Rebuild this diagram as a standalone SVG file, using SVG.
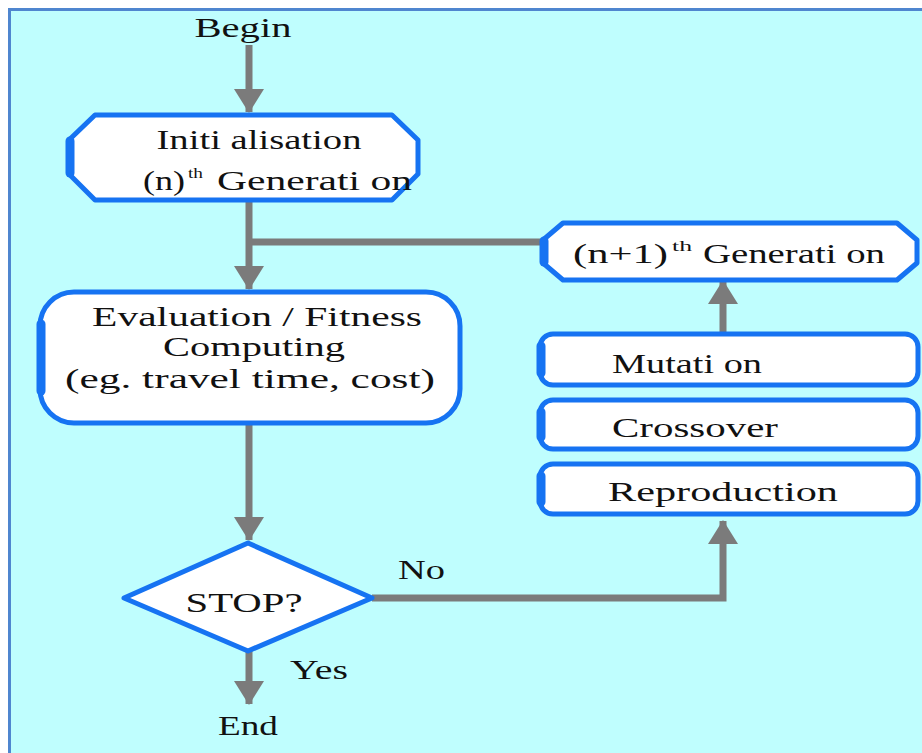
<svg xmlns="http://www.w3.org/2000/svg" width="922" height="753" viewBox="0 0 922 753">
  <style>
    .bg { fill: #bffefe; }
    .frame { fill: none; stroke: #4f86cf; stroke-width: 3; }
    .box { fill: #ffffff; stroke: #1673f2; stroke-width: 5; stroke-linejoin: round; }
    .edge { fill: none; stroke: #1673f2; stroke-width: 9; stroke-linecap: round; }
    .wire { fill: none; stroke: #7b7b7b; stroke-width: 7; }
    .lbl { font-family: "Liberation Serif", "DejaVu Serif", serif; font-size: 27px; fill: #111111; }
    .sup { font-size: 14px; }
  </style>
  <defs>
    <marker id="head" markerUnits="userSpaceOnUse" markerWidth="30" markerHeight="30" viewBox="0 0 24 30" refX="23" refY="15" orient="auto">
      <path d="M0,0 L24,15 L0,30 Z" fill="#7b7b7b"/>
    </marker>
  </defs>

  <!-- page -->
  <rect x="0" y="0" width="922" height="753" fill="#ffffff"/>
  <rect class="bg" x="10" y="10" width="912" height="743"/>
  <path class="frame" d="M9.5,753 V9.5 H922"/>

  <!-- connectors -->
  <g id="connectors">
    <line class="wire" x1="249" y1="45" x2="249" y2="112" marker-end="url(#head)"/>
    <line class="wire" x1="249" y1="202" x2="249" y2="289" marker-end="url(#head)"/>
    <line class="wire" x1="252" y1="242" x2="542" y2="242"/>
    <line class="wire" x1="249" y1="424" x2="249" y2="540" marker-end="url(#head)"/>
    <line class="wire" x1="249" y1="651" x2="249" y2="704" marker-end="url(#head)"/>
    <polyline class="wire" points="372,598 723,598 723,521" marker-end="url(#head)"/>
    <line class="wire" x1="723" y1="334" x2="723" y2="281" marker-end="url(#head)"/>
    <text class="lbl" x="398" y="579" textLength="47" lengthAdjust="spacingAndGlyphs">No</text>
    <text class="lbl" x="290" y="679" textLength="58" lengthAdjust="spacingAndGlyphs">Yes</text>
  </g>

  <g id="begin">
    <text class="lbl" x="243" y="37" text-anchor="middle" textLength="97" lengthAdjust="spacingAndGlyphs">Begin</text>
  </g>

  <g id="init">
    <path class="box" d="M95,115 H392 L418,140 V174 L392,200 H95 L69,174 V140 Z"/>
    <line class="edge" x1="70" y1="141" x2="70" y2="173"/>
    <text class="lbl" x="259" y="149" text-anchor="middle" textLength="205" lengthAdjust="spacingAndGlyphs">Initi alisation</text>
    <text class="lbl" x="143" y="190" textLength="42" lengthAdjust="spacingAndGlyphs">(n)</text>
    <text class="lbl sup" x="188" y="178" textLength="15" lengthAdjust="spacingAndGlyphs">th</text>
    <text class="lbl" x="217" y="190" textLength="195" lengthAdjust="spacingAndGlyphs">Generati on</text>
  </g>

  <g id="next-gen">
    <path class="box" d="M563,223 H897 L917,240 V263 L897,280 H563 L543,263 V240 Z"/>
    <line class="edge" x1="544" y1="241" x2="544" y2="262"/>
    <text class="lbl" x="573" y="263" textLength="95" lengthAdjust="spacingAndGlyphs">(n+1)</text>
    <text class="lbl sup" x="672" y="251" textLength="20" lengthAdjust="spacingAndGlyphs">th</text>
    <text class="lbl" x="703" y="263" textLength="182" lengthAdjust="spacingAndGlyphs">Generati on</text>
  </g>

  <g id="evaluation">
    <rect class="box" x="40" y="292" width="420" height="131" rx="34" ry="34"/>
    <line class="edge" x1="41" y1="324" x2="41" y2="391"/>
    <text class="lbl" x="257" y="326" text-anchor="middle" textLength="330" lengthAdjust="spacingAndGlyphs">Evaluation / Fitness</text>
    <text class="lbl" x="254" y="356" text-anchor="middle" textLength="182" lengthAdjust="spacingAndGlyphs">Computing</text>
    <text class="lbl" x="250" y="388" text-anchor="middle" textLength="370" lengthAdjust="spacingAndGlyphs">(eg. travel time, cost)</text>
  </g>

  <g id="mutation">
    <rect class="box" x="540" y="334" width="378" height="51" rx="13" ry="13"/>
    <line class="edge" x1="541" y1="346" x2="541" y2="373"/>
    <text class="lbl" x="612" y="373" textLength="150" lengthAdjust="spacingAndGlyphs">Mutati on</text>
  </g>

  <g id="crossover">
    <rect class="box" x="540" y="400" width="378" height="49" rx="13" ry="13"/>
    <line class="edge" x1="541" y1="412" x2="541" y2="437"/>
    <text class="lbl" x="612" y="437" textLength="166" lengthAdjust="spacingAndGlyphs">Crossover</text>
  </g>

  <g id="reproduction">
    <rect class="box" x="540" y="464" width="378" height="50" rx="13" ry="13"/>
    <line class="edge" x1="541" y1="476" x2="541" y2="502"/>
    <text class="lbl" x="608" y="501" textLength="230" lengthAdjust="spacingAndGlyphs">Reproduction</text>
  </g>

  <g id="stop">
    <path class="box" d="M248,543 L372,598 L248,651 L124,598 Z"/>
    <text class="lbl" x="244" y="612" text-anchor="middle" textLength="117" lengthAdjust="spacingAndGlyphs">STOP?</text>
  </g>

  <g id="end">
    <text class="lbl" x="248" y="735" text-anchor="middle" textLength="60" lengthAdjust="spacingAndGlyphs">End</text>
  </g>
</svg>
